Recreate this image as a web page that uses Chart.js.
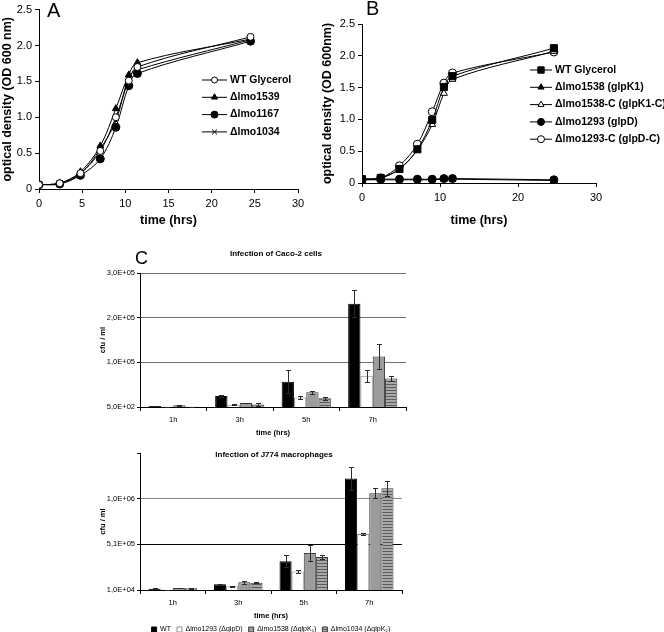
<!DOCTYPE html>
<html>
<head>
<meta charset="utf-8">
<script src="https://cdn.jsdelivr.net/npm/chart.js@4.4.0/dist/chart.umd.min.js"></script>
<style>
  html, body { margin: 0; padding: 0; background: #fff; overflow: hidden; }
  body { width: 664px; height: 632px; position: relative; }
  canvas { position: absolute; }
</style>
</head>
<body>
<canvas id="growthA" width="320" height="228" style="left:0;top:0"></canvas>
<canvas id="growthB" width="344" height="228" style="left:320px;top:0"></canvas>
<canvas id="caco" width="322" height="197" style="left:98px;top:240px"></canvas>
<canvas id="j774" width="322" height="203" style="left:98px;top:440px"></canvas>
<script>
// growth curves, panel A (time in hrs, OD600)
const timeA = [0, 2.4, 4.8, 7.1, 8.9, 10.4, 11.4, 24.5];
const wtGlycerolA = [0.06, 0.08, 0.22, 0.53, 1.00, 1.51, 1.70, 2.12];
const lmo1539 = [0.06, 0.08, 0.24, 0.60, 1.12, 1.59, 1.76, 2.09];
const lmo1167 = [0.06, 0.07, 0.19, 0.42, 0.86, 1.44, 1.61, 2.06];
const lmo1034 = [0.06, 0.08, 0.21, 0.56, 0.95, 1.55, 1.66, 2.08];

// panel B
const timeB = [0, 2.4, 4.8, 7.1, 9.0, 10.5, 11.6, 24.6];
const wtGlycerolB = [0.06, 0.08, 0.22, 0.53, 0.99, 1.51, 1.68, 2.12];
const glpK1 = [0.05, 0.05, 0.05, 0.05, 0.05, 0.06, 0.06, 0.04];
const glpK1C = [0.06, 0.08, 0.22, 0.52, 0.92, 1.41, 1.63, 2.07];
const glpD = [0.05, 0.06, 0.06, 0.06, 0.06, 0.07, 0.07, 0.05];
const glpDC = [0.06, 0.08, 0.27, 0.61, 1.12, 1.57, 1.73, 2.06];

// panel C, infection (cfu / ml)
const hours = ['1h', '3h', '5h', '7h'];
const strains = ['WT', 'Δlmo1293 (ΔglpD)', 'Δlmo1538 (ΔglpK₁)', 'Δlmo1034 (ΔglpK₂)'];

const cacoWT = [2500, 25000, 57000, 231500];
const cacoWTErr = [500, 3000, 26000, 30000];
const cacoGlpD = [800, 5500, 21500, 70500];
const cacoGlpDErr = [300, 1500, 4000, 13000];
const cacoK1 = [4500, 9500, 33500, 113500];
const cacoK1Err = [800, 1000, 3500, 27000];
const cacoK2 = [800, 6000, 20000, 64500];
const cacoK2Err = [300, 2500, 3000, 6000];

const j774WT = [24000, 72000, 326000, 1231000];
const j774WTErr = [3000, 8000, 66000, 130000];
const j774GlpD = [13000, 50000, 212000, 624000];
const j774GlpDErr = [2000, 5000, 12000, 15000];
const j774K1 = [32000, 94000, 414000, 1070000];
const j774K1Err = [3000, 15000, 85000, 55000];
const j774K2 = [28000, 90000, 370000, 1125000];
const j774K2Err = [2000, 4000, 25000, 83000];

const FONT = "'Liberation Sans', Arial, 'DejaVu Sans', sans-serif";
Chart.defaults.font.family = FONT;
Chart.defaults.color = '#000';
Chart.defaults.animation = false;

// free text: panel letters, chart titles
function notes(items) {
    return {
        id: 'notes',
        afterDraw(chart) {
            const ctx = chart.ctx, area = chart.chartArea;
            ctx.save();
            ctx.fillStyle = '#000';
            ctx.textBaseline = 'middle';
            items.forEach(n => {
                ctx.font = n.font;
                ctx.textAlign = n.centered ? 'center' : 'left';
                const x = n.centered ? (area.left + area.right) / 2 + n.x : n.x;
                ctx.fillText(n.text, x, n.y);
            });
            ctx.restore();
        }
    };
}

// legend with line + marker, like the excel one
function lineLegend(x, y, gap, len) {
    return {
        id: 'lineLegend',
        afterDraw(chart) {
            const ctx = chart.ctx;
            ctx.save();
            chart.data.datasets.forEach((ds, i) => {
                const yy = y + i * gap;
                ctx.strokeStyle = '#000';
                ctx.lineWidth = 1;
                ctx.beginPath();
                ctx.moveTo(x, yy);
                ctx.lineTo(x + len, yy);
                ctx.stroke();
                ctx.fillStyle = ds.pointBackgroundColor;
                Chart.helpers.drawPoint(ctx, {
                    pointStyle: ds.pointStyle, radius: ds.pointRadius - 0.5, rotation: 0, borderWidth: 1
                }, x + len / 2, yy);
                ctx.fillStyle = '#000';
                ctx.font = 'bold 10.5px ' + FONT;
                ctx.textAlign = 'left';
                ctx.textBaseline = 'middle';
                ctx.fillText(ds.label, x + len + 3, yy);
            });
            ctx.restore();
        }
    };
}

const errorBars = {
    id: 'errorBars',
    afterDatasetsDraw(chart) {
        const ctx = chart.ctx, y = chart.scales.y;
        ctx.save();
        ctx.strokeStyle = '#2a2a2a';
        ctx.lineWidth = 1;
        chart.data.datasets.forEach((ds, i) => {
            if (!ds.errors) return;
            chart.getDatasetMeta(i).data.forEach((bar, j) => {
                const v = ds.data[j], e = ds.errors[j];
                const top = Math.round(y.getPixelForValue(v + e)) + 0.5;
                const bot = Math.round(y.getPixelForValue(Math.max(v - e, y.min))) + 0.5;
                const x = Math.round(bar.x) + 0.5;
                ctx.beginPath();
                ctx.moveTo(x, top); ctx.lineTo(x, bot);
                ctx.moveTo(x - 2.5, top); ctx.lineTo(x + 2.5, top);
                ctx.moveTo(x - 2.5, bot); ctx.lineTo(x + 2.5, bot);
                ctx.stroke();
            });
        });
        ctx.restore();
    }
};

function pts(time, vals) {
    return time.map((t, i) => ({ x: t, y: vals[i] }));
}

function lineSet(label, time, vals, style, fill, radius) {
    return {
        label: label,
        data: pts(time, vals),
        borderColor: '#000',
        borderWidth: 1,
        tension: 0.35,
        fill: false,
        pointStyle: style,
        pointRadius: radius,
        pointBackgroundColor: fill,
        pointBorderColor: '#000',
        pointBorderWidth: 1
    };
}

function growthOptions(xStep, yTitle, yWidth, xHeight, pad) {
    return {
        responsive: false,
        layout: { padding: pad },
        plugins: { legend: { display: false }, tooltip: { enabled: false } },
        scales: {
            x: {
                type: 'linear', min: 0, max: 30,
                ticks: { stepSize: xStep, padding: 4, font: { size: 11 } },
                grid: { drawOnChartArea: false, tickLength: 4, color: '#000' },
                border: { color: '#000' },
                title: { display: true, text: 'time (hrs)', padding: 0, font: { size: 12.5, weight: 'bold' } },
                afterFit: s => { s.height = xHeight; }
            },
            y: {
                min: 0, max: 2.5,
                ticks: { stepSize: 0.5, padding: 3, font: { size: 11 } },
                grid: { drawOnChartArea: false, tickLength: 4, color: '#000' },
                border: { color: '#000' },
                title: { display: true, text: yTitle, padding: 0, font: { size: 12.5, weight: 'bold' } },
                afterFit: s => { s.width = yWidth; }
            }
        }
    };
}

new Chart(document.getElementById('growthA'), {
    type: 'line',
    data: {
        datasets: [
            lineSet('WT Glycerol', timeA, wtGlycerolA, 'circle', '#fff', 3.5),
            lineSet('Δlmo1539', timeA, lmo1539, 'triangle', '#000', 4),
            lineSet('Δlmo1167', timeA, lmo1167, 'circle', '#000', 4),
            lineSet('Δlmo1034', timeA, lmo1034, 'crossRot', '#000', 4)
        ]
    },
    options: growthOptions(5, 'optical density (OD 600 nm)', 39, 39, { left: 0, top: 4, right: 22, bottom: 0 }),
    plugins: [lineLegend(202, 80, 17.3, 25), notes([{ text: 'A', x: 47, y: 11, font: '20px ' + FONT }])]
});

new Chart(document.getElementById('growthB'), {
    type: 'line',
    data: {
        datasets: [
            lineSet('WT Glycerol', timeB, wtGlycerolB, 'rect', '#000', 5),
            lineSet('Δlmo1538 (glpK1)', timeB, glpK1, 'triangle', '#000', 4),
            lineSet('Δlmo1538-C (glpK1-C)', timeB, glpK1C, 'triangle', '#fff', 4),
            lineSet('Δlmo1293 (glpD)', timeB, glpD, 'circle', '#000', 4),
            lineSet('Δlmo1293-C (glpD-C)', timeB, glpDC, 'circle', '#fff', 4)
        ]
    },
    options: growthOptions(10, 'optical density (OD 600nm)', 42, 45, { left: 0, top: 24, right: 68, bottom: 0 }),
    plugins: [lineLegend(210, 70, 17.3, 22), notes([{ text: 'B', x: 46, y: 9, font: '20px ' + FONT }])]
});

// horizontal stripes for the lmo1034 bars
function stripes() {
    const c = document.createElement('canvas');
    c.width = 4; c.height = 3;
    const g = c.getContext('2d');
    g.fillStyle = '#a8a8a8';
    g.fillRect(0, 0, 4, 3);
    g.fillStyle = '#5c5c5c';
    g.fillRect(0, 0, 4, 1);
    return g.createPattern(c, 'repeat');
}

function sci(v) {
    const parts = v.toExponential(1).split('e');
    const e = +parts[1];
    return parts[0].replace('.', ',') + 'E' + (e < 0 ? '-' : '+') + String(Math.abs(e)).padStart(2, '0');
}

function barSets(wt, wtErr, gd, gdErr, k1, k1Err, k2, k2Err) {
    const common = { categoryPercentage: 0.74, barPercentage: 1.0, borderWidth: 1 };
    return [
        Object.assign({ label: strains[0], data: wt, errors: wtErr, backgroundColor: '#000', borderColor: '#000' }, common),
        Object.assign({ label: strains[1], data: gd, errors: gdErr, backgroundColor: '#fff', borderColor: '#8c8c8c' }, common),
        Object.assign({ label: strains[2], data: k1, errors: k1Err, backgroundColor: '#9c9c9c', borderColor: '#3a3a3a' }, common),
        Object.assign({ label: strains[3], data: k2, errors: k2Err, backgroundColor: stripes(), borderColor: '#3a3a3a' }, common)
    ];
}

function barOptions(min, max, step, gridColors, hideTop, xHeight, pad, showLegend) {
    return {
        responsive: false,
        layout: { padding: pad },
        plugins: {
            tooltip: { enabled: false },
            legend: {
                display: showLegend, position: 'bottom', fullSize: false,
                labels: { boxWidth: 5, boxHeight: 5, padding: 6, font: { size: 7 }, color: '#000' }
            }
        },
        scales: {
            x: {
                ticks: { padding: 4, font: { size: 7.5 } },
                grid: { drawOnChartArea: false, tickLength: 4, color: '#000' },
                border: { color: '#000' },
                title: { display: true, text: 'time (hrs)', padding: 0, font: { size: 7.5, weight: 'bold' } },
                afterFit: s => { s.height = xHeight; }
            },
            y: {
                min: min, max: max,
                ticks: {
                    stepSize: step, padding: 2, font: { size: 7.5 },
                    callback: (v, i, t) => (hideTop && i === t.length - 1) ? '' : sci(v)
                },
                grid: { color: c => gridColors[c.index] || 'transparent', tickColor: '#000', tickLength: 3 },
                border: { color: '#000' },
                title: { display: true, text: 'cfu / ml', padding: 0, font: { size: 7.5, weight: 'bold' } },
                afterFit: s => { s.width = 42; }
            }
        }
    };
}

new Chart(document.getElementById('caco'), {
    type: 'bar',
    data: {
        labels: hours,
        datasets: barSets(cacoWT, cacoWTErr, cacoGlpD, cacoGlpDErr, cacoK1, cacoK1Err, cacoK2, cacoK2Err)
    },
    options: barOptions(500, 300500, 100000, ['transparent', '#707070', '#707070', '#707070'], false, 30,
        { left: 0, top: 33, right: 14, bottom: 0 }, false),
    plugins: [errorBars, notes([
        { text: 'C', x: 37, y: 19, font: '18px ' + FONT },
        { text: 'Infection of Caco-2 cells', centered: true, x: 3, y: 14, font: 'bold 8px ' + FONT }
    ])]
});

new Chart(document.getElementById('j774'), {
    type: 'bar',
    data: {
        labels: hours,
        datasets: barSets(j774WT, j774WTErr, j774GlpD, j774GlpDErr, j774K1, j774K1Err, j774K2, j774K2Err)
    },
    options: barOptions(10000, 1510000, 500000, ['transparent', '#000', '#8a8a8a', 'transparent'], true, 30,
        { left: 0, top: 13, right: 18, bottom: 0 }, true),
    plugins: [errorBars, notes([
        { text: 'Infection of J774 macrophages', centered: true, x: 3, y: 15, font: 'bold 8px ' + FONT }
    ])]
});
</script>
</body>
</html>
